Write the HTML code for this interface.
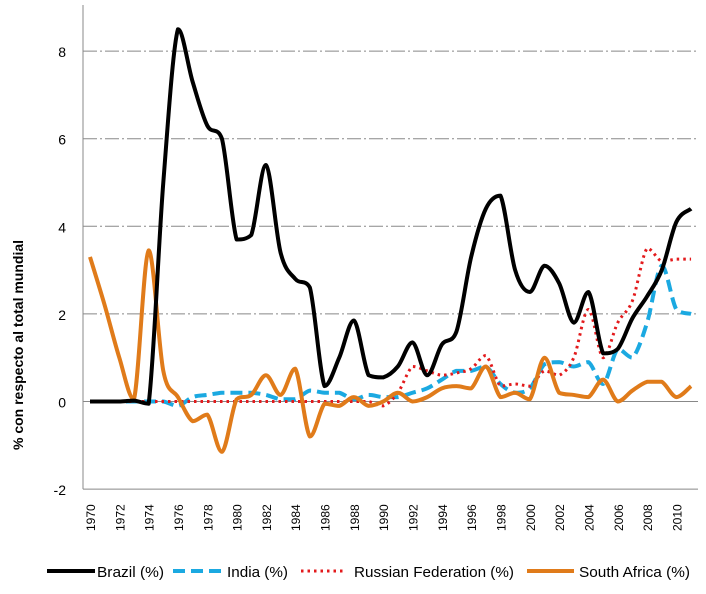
<!DOCTYPE html>
<html><head><meta charset="utf-8"><style>
body{margin:0;background:#fff;font-family:"Liberation Sans",sans-serif}
svg text{font-family:"Liberation Sans",sans-serif}
</style></head><body>
<svg id="c" width="706" height="589"></svg>
<script>
const years=[];for(let y=1970;y<=2011;y++)years.push(y);
const brazil=[0,0,0,0.02,-0.05,5.0,8.5,7.3,6.3,6.0,3.7,3.8,5.4,3.4,2.8,2.6,0.35,1.0,1.85,0.6,0.55,0.8,1.35,0.6,1.3,1.6,3.3,4.4,4.7,3.0,2.5,3.1,2.7,1.8,2.5,1.1,1.2,1.9,2.4,3.0,4.1,4.4];
const india=[0,0,0,0,0,0,-0.1,0.1,0.15,0.2,0.2,0.2,0.15,0.05,0.05,0.25,0.2,0.2,0.05,0.15,0.1,0.1,0.2,0.3,0.5,0.7,0.7,0.8,0.4,0.2,0.3,0.85,0.9,0.8,0.9,0.4,1.2,1.0,1.8,3.1,2.1,2.0];
const russia=[0,0,0,0,0,0,0,0,0,0,0,0,0,0,0,0,0,0,0,0,-0.1,0.2,0.8,0.7,0.6,0.65,0.75,1.05,0.35,0.4,0.35,0.7,0.6,1.0,2.1,1.0,1.8,2.3,3.5,3.2,3.25,3.25];
const safrica=[3.3,2.2,1.0,0.05,3.45,0.7,0.1,-0.45,-0.3,-1.15,0.05,0.15,0.6,0.15,0.75,-0.8,-0.05,-0.1,0.1,-0.1,0.0,0.2,0.0,0.1,0.3,0.35,0.3,0.8,0.1,0.2,0.05,1.0,0.2,0.15,0.1,0.5,0.0,0.25,0.45,0.45,0.1,0.35];
const yTicks=[-2,0,2,4,6,8];
const xTicks=[1970,1972,1974,1976,1978,1980,1982,1984,1986,1988,1990,1992,1994,1996,1998,2000,2002,2004,2006,2008,2010];
const NS='http://www.w3.org/2000/svg',svg=document.getElementById('c');
const X=y=>90+(y-1970)*14.66, Y=v=>401.5-v*43.8;
function el(t,a,p){const e=document.createElementNS(NS,t);for(const k in a)e.setAttribute(k,a[k]);(p||svg).appendChild(e);return e;}
yTicks.forEach(t=>{
 if(t>-2&&t!==0){const g=el('line',{x1:83,x2:698,y1:Y(t),y2:Y(t),stroke:'#888','stroke-width':1,'stroke-dasharray':'14 3 2 3'});
 
 }
 const tx=el('text',{x:66,y:Y(t)+6,'text-anchor':'end','font-size':14,fill:'#000'});tx.textContent=t;
 
 
});
const z=el('line',{x1:83,x2:698,y1:Y(0),y2:Y(0),stroke:'#888','stroke-width':1});


const ax=el('line',{x1:83,x2:83,y1:5,y2:Y(-2),stroke:'#888','stroke-width':1});


const bx=el('line',{x1:83,x2:698,y1:Y(-2),y2:Y(-2),stroke:'#888','stroke-width':1});


xTicks.forEach(t=>{const tx=el('text',{transform:`translate(${X(t)+5},531) rotate(-90)`,'font-size':12,fill:'#000'});tx.textContent=t;
 
 });
const yt=el('text',{transform:'translate(23,345) rotate(-90)','text-anchor':'middle','font-size':14,'font-weight':'bold',fill:'#000'});yt.textContent='% con respecto al total mundial';


const cl=(v,a,b)=>Math.max(Math.min(a,b),Math.min(Math.max(a,b),v));
function path(vals){const p=vals.map((v,i)=>[X(years[i]),Y(v)]);let d=`M${p[0][0]},${p[0][1]}`;
 for(let i=0;i<p.length-1;i++){const p0=p[i-1]||p[i],p1=p[i],p2=p[i+1],p3=p[i+2]||p2;
 const c1y=cl(p1[1]+(p2[1]-p0[1])/6,p1[1],p2[1]),c2y=cl(p2[1]-(p3[1]-p1[1])/6,p1[1],p2[1]);
 d+=` C${p1[0]+(p2[0]-p0[0])/6},${c1y} ${p2[0]-(p3[0]-p1[0])/6},${c2y} ${p2[0]},${p2[1]}`;}return d;}
const series=[
 {n:'india',v:india,c:'#1ba9e1',w:4,da:'12 6',lbl:'India (%)'},
 {n:'russia',v:russia,c:'#e31a1c',w:3,da:'2.5 4',lbl:'Russian Federation (%)'},
 {n:'south-africa',v:safrica,c:'#e07b1a',w:4,da:'',lbl:'South Africa (%)'},
 {n:'brazil',v:brazil,c:'#000',w:4,da:'',lbl:'Brazil (%)'}];
series.forEach(s=>{const p=el('path',{d:path(s.v),fill:'none',stroke:s.c,'stroke-width':s.w,'stroke-dasharray':s.da,'stroke-linejoin':'round'});
 
 });
const leg=[[47,95,97,67],[173,221,227,61],[301,345,354,160],[527,574,579,111]];
const order=['brazil','india','russia','south-africa'];
order.forEach((n,i)=>{const s=series.find(q=>q.n===n);const L=leg[i];
 const g=el('g',{});
 
 el('line',{x1:L[0],x2:L[1],y1:571,y2:571,stroke:s.c,'stroke-width':s.w,'stroke-dasharray':s.da},g);
 const t=el('text',{x:L[2],y:577,'font-size':15,fill:'#000',textLength:L[3],lengthAdjust:'spacingAndGlyphs'},g);t.textContent=s.lbl;});
</script>
</body></html>
